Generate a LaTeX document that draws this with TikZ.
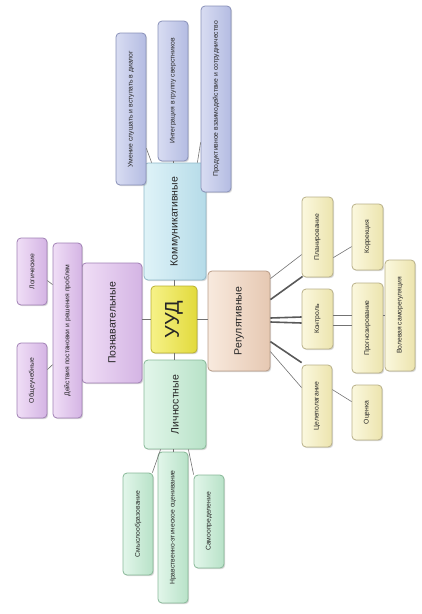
\documentclass[tikz,border=0pt]{standalone}
\usepackage{fontspec}
\setmainfont{Liberation Sans}
\usepackage{graphicx}
\usetikzlibrary{shadows,calc}
\definecolor{kommL}{HTML}{DFF3F8}\definecolor{kommR}{HTML}{B5DBE8}\definecolor{kommB}{HTML}{8FB8C8}
\definecolor{kleafL}{HTML}{D8DCF2}\definecolor{kleafR}{HTML}{B4BCE2}\definecolor{kleafB}{HTML}{8890B8}
\definecolor{uudL}{HTML}{F6F288}\definecolor{uudR}{HTML}{E2DA3C}\definecolor{uudB}{HTML}{B8B030}
\definecolor{regL}{HTML}{F8EADE}\definecolor{regR}{HTML}{E6C8B2}\definecolor{regB}{HTML}{B89C88}
\definecolor{rleafL}{HTML}{FBF8DE}\definecolor{rleafR}{HTML}{ECE4AE}\definecolor{rleafB}{HTML}{B8B088}
\definecolor{poznL}{HTML}{F0DEF6}\definecolor{poznR}{HTML}{D4B4E4}\definecolor{poznB}{HTML}{A080B4}
\definecolor{lichL}{HTML}{E2F6EA}\definecolor{lichR}{HTML}{B8E2C8}\definecolor{lichB}{HTML}{88B898}
\newcommand\vtxt[1]{\rotatebox{90}{#1}}
\begin{document}
\begin{tikzpicture}[x=1pt,y=-1pt,
  box/.style={draw, rounded corners=4pt, line width=0.8pt, inner sep=0pt, text=black!85,
    drop shadow={opacity=0.3,shadow xshift=1.2pt,shadow yshift=-1.2pt}},
  big/.style={box, font=\fontsize{10.5}{12}\selectfont},
  leaf/.style={box, font=\fontsize{6.8}{8}\selectfont},
  komm/.style={left color=kommL, right color=kommR, draw=kommB},
  kleaf/.style={left color=kleafL, right color=kleafR, draw=kleafB},
  uudst/.style={left color=uudL, right color=uudR, draw=uudB},
  reg/.style={left color=regL, right color=regR, draw=regB},
  rleaf/.style={left color=rleafL, right color=rleafR, draw=rleafB},
  pozn/.style={left color=poznL, right color=poznR, draw=poznB},
  lich/.style={left color=lichL, right color=lichR, draw=lichB},
  thin/.style={draw=black!55, line width=0.6pt},
  thick/.style={draw=black!65, line width=1.6pt}]
\useasboundingbox (0,0) rectangle (422,614);

% central
\node[big,uudst,minimum width=46pt,minimum height=67pt,font=\fontsize{20}{22}\selectfont] (uud) at (174,319.5) {\vtxt{УУД}};
\node[big,komm,minimum width=62pt,minimum height=117pt] (komm) at (175,221.5) {\vtxt{Коммуникативные}};
\node[big,reg,minimum width=62pt,minimum height=100pt] (reg) at (239,321) {\vtxt{Регулятивные}};
\node[big,lich,minimum width=62pt,minimum height=89pt] (lich) at (175,404.5) {\vtxt{Личностные}};
\node[big,pozn,minimum width=60pt,minimum height=120pt] (pozn) at (112,323) {\vtxt{Познавательные}};

% cognitive leaves
\node[leaf,pozn,minimum width=29pt,minimum height=175pt] (deist) at (67.5,330.5) {\vtxt{Действия постановки и решения проблем}};
\node[leaf,pozn,minimum width=30pt,minimum height=67pt] (logic) at (32,271.5) {\vtxt{Логические}};
\node[leaf,pozn,minimum width=30pt,minimum height=75pt] (obsh) at (32,380.5) {\vtxt{Общеучебные}};

% communicative leaves
\node[leaf,kleaf,minimum width=30pt,minimum height=152pt] (umen) at (131,109) {\vtxt{Умение слушать и вступать в диалог}};
\node[leaf,kleaf,minimum width=30pt,minimum height=140pt] (integr) at (173,91) {\vtxt{Интеграция в группу сверстников}};
\node[leaf,kleaf,minimum width=30pt,minimum height=186pt] (prod) at (216,99) {\vtxt{Продуктивное взаимодействие и сотрудничество}};

% regulative leaves
\node[leaf,rleaf,minimum width=31pt,minimum height=80pt] (plan) at (317.5,237) {\vtxt{Планирование}};
\node[leaf,rleaf,minimum width=31pt,minimum height=66pt] (korr) at (367.5,237) {\vtxt{Коррекция}};
\node[leaf,rleaf,minimum width=31pt,minimum height=60pt] (kontr) at (317.5,319) {\vtxt{Контроль}};
\node[leaf,rleaf,minimum width=31pt,minimum height=90pt] (prog) at (367.5,328) {\vtxt{Прогнозирование}};
\node[leaf,rleaf,minimum width=30pt,minimum height=111pt] (vol) at (400,315.5) {\vtxt{Волевая саморегуляция}};
\node[leaf,rleaf,minimum width=30pt,minimum height=82pt] (tsel) at (317,406) {\vtxt{Целеполагание}};
\node[leaf,rleaf,minimum width=30pt,minimum height=55pt] (otsen) at (367,412.5) {\vtxt{Оценка}};

% personal leaves
\node[leaf,lich,minimum width=30pt,minimum height=102pt] (smysl) at (138,524) {\vtxt{Смыслообразование}};
\node[leaf,lich,minimum width=30pt,minimum height=151pt] (nrav) at (173,527.5) {\vtxt{Нравственно-этическое оценивание}};
\node[leaf,lich,minimum width=30pt,minimum height=93pt] (samo) at (209,521.5) {\vtxt{Самоопределение}};

% connectors
\draw[thin] ($(umen.south east)+(0,-37)$) -- ($(komm.north west)+(8,0)$);
\draw[thin] (integr.south) -- (integr.south |- komm.north);
\draw[thin] ($(prod.south west)+(0,-50)$) -- ($(komm.north east)+(-9,0)$);
\draw[thin] (komm.south -| uud.north) -- (uud.north);
\draw[thin] (uud.south) -- (uud.south |- lich.north);
\draw[thin] (uud.west) -- (uud.west -| pozn.east);
\draw[thin] (uud.east) -- (uud.east -| reg.west);
\draw[thin] ($(logic.north east)+(0,43)$) -- ($(deist.north west)+(0,42)$);
\draw[thin] ($(obsh.north east)+(0,27)$) -- ($(deist.north west)+(0,122)$);
\draw[thin] ($(lich.south west)+(17,0)$) -- ($(smysl.north east)+(-1,0)$);
\draw[thin] (lich.south -| nrav.north) -- (nrav.north);
\draw[thin] ($(lich.south east)+(-18,0)$) -- ($(samo.north west)+(0,0)$);
% regulative
\draw[thin] ($(reg.north east)+(0,8)$) -- ($(plan.north west)+(0,58)$);
\draw[thick] ($(reg.north east)+(0,29)$) -- ($(plan.south west)+(1,-1)$);
\draw[thick] ($(reg.east)+(0,-3)$) -- ($(kontr.west)+(0,-2)$);
\draw[thick] ($(reg.east)+(0,1)$) -- ($(kontr.west)+(0,4)$);
\draw[thick] ($(reg.north east)+(0,71)$) -- ($(tsel.north west)+(0,-2)$);
\draw[thin] ($(reg.north east)+(0,81)$) -- ($(tsel.north west)+(0,23)$);
\draw[thin] ($(plan.north east)+(0,61)$) -- ($(korr.north west)+(0,43)$);
\draw[thin] ($(kontr.north east)+(0,27)$) -- ($(prog.north west)+(0,33)$);
\draw[thin] ($(kontr.north east)+(0,37)$) -- ($(prog.north west)+(0,43)$);
\draw[thin] ($(prog.north east)+(0,33)$) -- ($(vol.north west)+(0,56)$);
\draw[thin] ($(tsel.north east)+(0,25)$) -- ($(otsen.north west)+(0,17)$);
\end{tikzpicture}
\end{document}
